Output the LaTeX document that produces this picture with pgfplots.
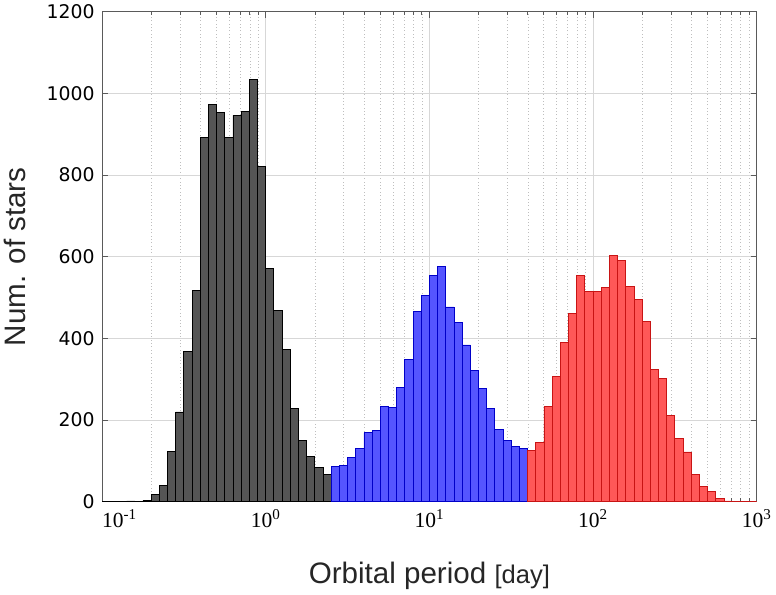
\documentclass[border=0pt]{standalone}
\usepackage{fontspec}
\setmainfont{Liberation Sans}
\newfontfamily\ytickfont{DejaVu Sans}
\newfontfamily\xtickfont{Liberation Serif}
\usepackage{pgfplots}
\pgfplotsset{compat=1.18}
\usepackage{pgfplotstable}

\definecolor{axisgray}{RGB}{90,90,90}
\definecolor{gridgray}{RGB}{215,215,215}
\definecolor{mingridgray}{RGB}{190,190,190}
\definecolor{shortfill}{RGB}{85,85,85}
\definecolor{midfill}{RGB}{85,85,255}
\definecolor{midedge}{RGB}{0,0,200}
\definecolor{longfill}{RGB}{255,88,88}
\definecolor{longedge}{RGB}{200,20,20}

% bin left edges in log10(period/day), bin width 0.05 dex; last row closes the final bin
\pgfplotstableread{
e n
-1.00 0
-0.95 0
-0.90 1
-0.85 2
-0.80 1
-0.75 4
-0.70 18
-0.65 39
-0.60 123
-0.55 220
-0.50 367
-0.45 517
-0.40 893
-0.35 972
-0.30 952
-0.25 893
-0.20 946
-0.15 955
-0.10 1033
-0.05 820
0.00 572
0.05 468
0.10 374
0.15 228
0.20 151
0.25 110
0.30 84
0.35 67
0.40 0
}\shortper

\pgfplotstableread{
e n
0.40 86
0.45 89
0.50 108
0.55 130
0.60 169
0.65 174
0.70 233
0.75 230
0.80 280
0.85 348
0.90 467
0.95 506
1.00 554
1.05 577
1.10 477
1.15 440
1.20 384
1.25 322
1.30 278
1.35 228
1.40 176
1.45 151
1.50 135
1.55 131
1.60 0
}\midper

\pgfplotstableread{
e n
1.60 126
1.65 145
1.70 233
1.75 306
1.80 390
1.85 461
1.90 554
1.95 514
2.00 516
2.05 524
2.10 604
2.15 590
2.20 527
2.25 495
2.30 442
2.35 323
2.40 302
2.45 212
2.50 154
2.55 122
2.60 68
2.65 37
2.70 26
2.75 9
2.80 2
2.85 1
2.90 1
2.95 1
3.00 0
}\longper

\begin{document}
\begin{tikzpicture}
\begin{axis}[
  scale only axis,
  width=486.75pt, height=364.5pt,
  xmin=-1, xmax=3, ymin=0, ymax=1200,
  xtick={-1,0,1,2,3},
  xticklabels={\makebox[0pt][l]{10\textsuperscript{-1}},10\textsuperscript{0},10\textsuperscript{1},10\textsuperscript{2},10\textsuperscript{3}},
  minor xtick={-0.69897,-0.52288,-0.39794,-0.30103,-0.22185,-0.15490,-0.09691,-0.04576,
    0.30103,0.47712,0.60206,0.69897,0.77815,0.84510,0.90309,0.95424,
    1.30103,1.47712,1.60206,1.69897,1.77815,1.84510,1.90309,1.95424,
    2.30103,2.47712,2.60206,2.69897,2.77815,2.84510,2.90309,2.95424},
  ytick={0,200,...,1200},
  /pgf/number format/assume math mode=true,
  /pgf/number format/1000 sep={},
  x tick label style={font=\xtickfont\fontsize{16}{18}\selectfont, yshift=-2pt},
  y tick label style={font=\ytickfont\fontsize{14}{16}\selectfont, xshift=-2pt},
  tick align=inside,
  major tick length=4.5pt,
  minor tick length=2.5pt,
  tick style={axisgray, line width=0.6pt},
  axis line style={axisgray, line width=0.8pt},
  xmajorgrids, ymajorgrids, xminorgrids,
  major grid style={gridgray, line width=0.6pt},
  minor grid style={mingridgray, line width=0.5pt, dotted},
  xlabel={Orbital period {\fontsize{19}{22}\selectfont[day]}},
  ylabel={Num. of stars},
  label style={font=\fontsize{22}{26}\selectfont, text=black!85},
  xlabel style={at={(axis description cs:0.5,-0.152)}, anchor=center},
  ylabel style={at={(axis description cs:-0.1325,0.5)}, anchor=center},
  axis on top=false,
]
\addplot[ybar interval, fill=shortfill, draw=black, line width=0.6pt]
  table[x=e, y=n] {\shortper};
\addplot[ybar interval, fill=midfill, draw=midedge, line width=0.6pt]
  table[x=e, y=n] {\midper};
\addplot[ybar interval, fill=longfill, draw=longedge, line width=0.6pt]
  table[x=e, y=n] {\longper};
\end{axis}
\end{tikzpicture}
\end{document}
